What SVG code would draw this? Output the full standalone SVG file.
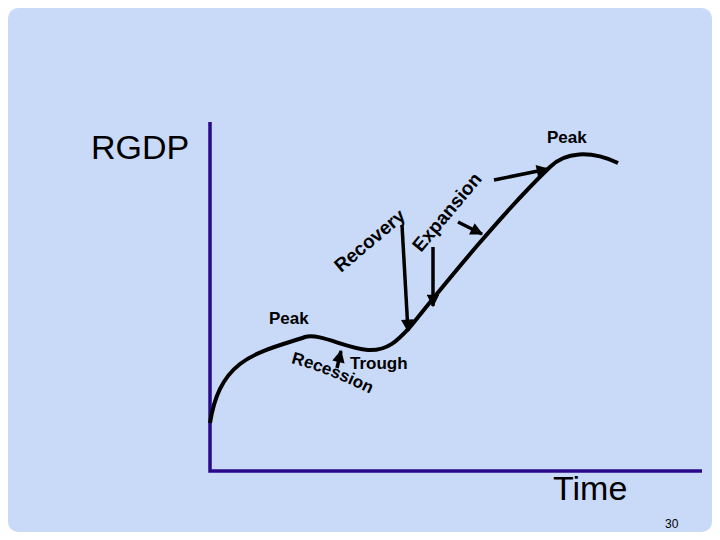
<svg xmlns="http://www.w3.org/2000/svg" width="720" height="540" viewBox="0 0 720 540">
<style>
.lbl{font-family:"Liberation Sans",Arial,sans-serif;font-weight:bold;font-size:17px;fill:#000}
.rot{font-size:19px}
.big{font-family:"Liberation Sans",Arial,sans-serif;font-size:34px;fill:#000}
.ar{stroke:#000;stroke-width:3.5;fill:none;marker-end:url(#ah)}
.axis{stroke:#2A0A8A;stroke-width:3.5;fill:none}
</style>
<defs>
<marker id="ah" viewBox="0 0 10 10" refX="9" refY="5" markerWidth="4" markerHeight="3.6" orient="auto" markerUnits="strokeWidth">
<path d="M0,0 L10,5 L0,10 Z" fill="#000"/>
</marker>
<path id="recPath" d="M291,363 Q333,374 384,401"/>
</defs>
<rect x="0" y="0" width="720" height="540" fill="#fff"/>
<rect x="8" y="8" width="704" height="524" rx="10" fill="#C9DAF8"/>
<g id="axes">
<path class="axis" d="M210,122 V471 H702"/>
</g>
<g id="curve">
<path d="M210,423 C214,398 222,378 240,364 C258,350 285,344 305,337 C320,333 345,348 368,350 C388,351 398,340 410,327 C440,290 500,215 550,167 C565,152 590,150 618,163" stroke="#000" stroke-width="4" fill="none"/>
</g>
<g id="connectors">
<line class="ar" x1="402" y1="225" x2="408" y2="331"/>
<line class="ar" x1="433" y1="247" x2="433" y2="306"/>
<line class="ar" x1="458" y1="222" x2="482" y2="234"/>
<line class="ar" x1="494" y1="180" x2="548" y2="169"/>
<line class="ar" x1="337" y1="368" x2="341" y2="351"/>
</g>
<g id="labels">
<text class="big" x="91" y="159">RGDP</text>
<text class="big" x="553" y="500">Time</text>
<text x="665" y="528" font-family="Liberation Sans,Arial,sans-serif" font-size="12" fill="#000">30</text>
<text class="lbl" x="547" y="143">Peak</text>
<text class="lbl" x="269" y="324">Peak</text>
<text class="lbl" x="350" y="369">Trough</text>
<text class="lbl rot" transform="translate(341,273) rotate(-40)">Recovery</text>
<text class="lbl rot" transform="translate(421,253) rotate(-50)">Expansion</text>
<text class="lbl" font-size="18"><textPath href="#recPath">Recession</textPath></text>
</g>
</svg>
